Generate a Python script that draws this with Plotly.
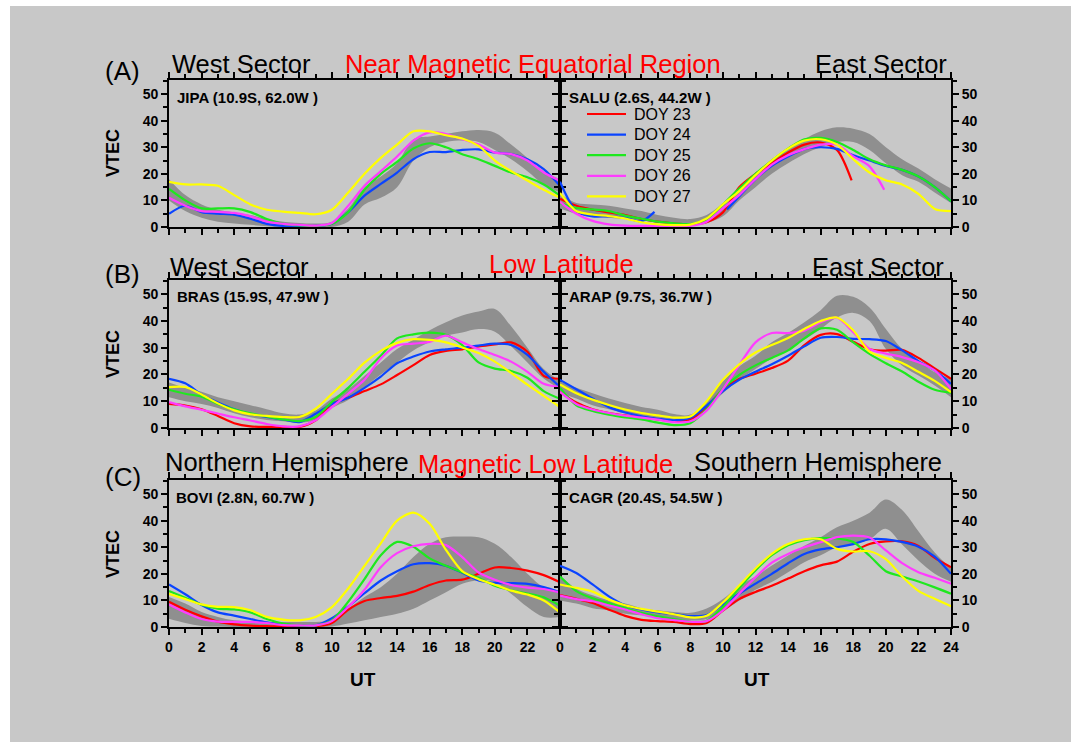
import plotly.graph_objects as go

W, H = 1071, 742
UT = list(range(25))

# ---------------- (A) JIPA ----------------
jipa_band_lo = [10, 6, 3.5, 2, 1.3, 0.8, 0.3, 0, 0, 0, 0, 2, 8.5, 11, 15, 25, 30, 32, 32.5, 32, 29, 25.5, 21, 16, 13]
jipa_band_hi = [18, 12, 8.5, 6.5, 5.5, 4.5, 3, 2, 1.5, 1.3, 2, 7, 15, 19, 24, 33, 34, 35, 36, 36.5, 35.5, 31, 26, 21, 18]
jipa_doy24 = [5, 8, 5.6, 5, 4.6, 3.1, 1.2, 0.4, 0.4, 0.4, 1.2, 5.6, 11.8, 16.2, 20.5, 25.5, 28.2, 28.2, 29, 29.2, 28, 27.4, 25.5, 21.8, 15.5]
jipa_doy25 = [14.3, 10, 7, 7, 7, 5.6, 3, 1.2, 0.6, 0.4, 1.2, 5.6, 14, 20, 24.5, 29.5, 31.5, 30, 27.4, 25.5, 23, 20.5, 18.7, 16, 11.8]
jipa_doy26 = [11, 8, 6, 5.7, 5.3, 4, 2, 1.2, 0.8, 0.5, 1.5, 8, 15.5, 21, 26.5, 32.5, 35.6, 35, 33, 31, 28, 27.4, 25, 20.5, 17.4]
jipa_doy27 = [17, 16, 16, 15.5, 12, 8.5, 6.5, 5.8, 5.3, 4.8, 6.5, 13, 20, 26, 31, 36, 36, 34.5, 33.3, 30.5, 25, 21, 17.5, 14, 11]

# ---------------- (A) SALU ----------------
salu_band_lo = [7, 5, 4, 3.5, 3, 2.5, 1.5, 1, 1, 1.5, 4, 10, 15, 20, 24, 27.5, 30, 32, 32, 29, 24, 19.5, 17, 13, 9]
salu_band_hi = [12.5, 9, 8.5, 8, 7, 6, 4.5, 3.5, 3, 4.5, 9, 15, 20, 25, 29, 33, 36, 37.5, 37, 35, 30, 25.5, 22, 18, 14.5]
salu_doy23_ut = [0, 1, 2, 3, 4, 5, 6, 7, 8, 9, 10, 11, 12, 13, 14, 15, 16, 17, 17.9]
salu_doy23 = [10.6, 8, 6.5, 5.5, 4.5, 3, 2, 1.3, 1, 1.8, 5.5, 15, 20, 24, 28, 31, 31.8, 29, 17.5]
salu_doy24_ut = [0, 1, 2, 3, 4, 5, 5.8, None, 10.25, 11, 12, 13, 14, 15, 16, 17, 18, 19, 20, 21, 22, 23, 24]
salu_doy24 = [17, 6, 4, 4, 3.5, 2.2, 5.7, None, 6.6, 11.5, 18, 23, 26.5, 29.3, 30, 29.4, 27, 25, 23, 21.5, 19, 15, 9.7]
salu_doy25 = [9, 7.2, 6.6, 6, 4.3, 3.1, 2, 1.4, 1.1, 3, 8.5, 14.5, 20, 25, 29.5, 33, 33.5, 32, 29, 25.5, 23.2, 21.5, 19, 15, 9.7]
salu_doy26_ut = list(range(20)) + [19.9]
salu_doy26 = [9.5, 5, 2.3, 1, 0.5, 0.4, 0.4, 0.4, 0.4, 2, 7, 12, 18, 23.5, 27, 29.3, 31, 31, 26.6, 22.8, 14]
salu_doy27 = [12.8, 6, 4.7, 4.1, 3.2, 1.8, 1, 0.7, 0.9, 3.2, 8.5, 13.5, 19.5, 25, 29.5, 32.5, 33, 31, 25.5, 20.5, 17.6, 16, 12.5, 6.8, 6]

# ---------------- (B) BRAS ----------------
bras_band_lo = [11.5, 10, 9, 7.5, 5.5, 4, 3, 2.5, 2, 3, 7.5, 10.5, 15.3, 20, 24.5, 29, 32, 34.5, 35.7, 37, 36, 30.5, 24.5, 18.5, 14.6]
bras_band_hi = [17, 15, 13.5, 11.5, 10, 8.5, 7, 5.5, 5, 6.5, 11, 14.5, 19.5, 24.5, 29.5, 33, 36.5, 39.5, 42, 43.5, 44.5, 38, 30, 22, 17.7]
bras_doy23 = [9, 8.4, 7, 4.5, 1.8, 0.6, 0.4, 0.4, 0.4, 2.9, 9, 11.3, 13.8, 16.3, 19.8, 23.5, 27.3, 28.8, 29.4, 30.5, 31.2, 32, 28.5, 19.5, 18.4]
bras_doy24 = [18.4, 16.7, 12.5, 9.5, 7, 5.2, 4.1, 3.2, 2.2, 5.3, 9, 11.3, 15, 19.2, 24.2, 26.7, 28.6, 29.4, 30, 30.8, 31.5, 31, 27.3, 21, 15.3]
bras_doy25 = [14.3, 12.8, 11.7, 9, 7, 5.5, 4.3, 3.2, 2.6, 4.1, 9.7, 15, 21, 27, 33.5, 35, 35.6, 34.8, 31, 24.5, 22.2, 21.3, 18.8, 13.8, 10.9]
bras_doy26 = [9.7, 8.1, 6.8, 5.4, 4, 2.8, 1.5, 0.6, 0.6, 2.9, 7.8, 12.8, 18, 26, 30.8, 31.5, 32.2, 34.5, 32, 29.5, 27.3, 24.8, 21, 16.5, 15.3]
bras_doy27 = [15.3, 15.3, 12.5, 9.2, 6.6, 5.1, 4.5, 4.1, 4.1, 7.2, 12.8, 18.4, 24.4, 28.8, 31.8, 33.2, 32.9, 32, 30.1, 28, 24.8, 20.6, 16.2, 12, 7.8]

# ---------------- (B) ARAP ----------------
arap_band_lo = [13, 11, 8.5, 7, 5.5, 4.2, 3.4, 2.4, 2.5, 7.5, 13, 18, 22, 26, 29, 33, 37, 41.3, 43, 40, 29.5, 23.3, 19.6, 15.9, 11.5]
arap_band_hi = [17.5, 15, 13, 11, 9.3, 7.8, 6.8, 5.2, 5, 10, 17.5, 23, 27, 32, 35.5, 39.5, 44, 49.4, 49, 45, 37, 29.5, 25.2, 20.8, 18.4]
arap_doy23 = [13.5, 9.5, 7, 5.6, 4.7, 4, 3.2, 2.5, 3.2, 8, 14.3, 18.3, 20.3, 22.4, 25.2, 31, 34.8, 35.1, 32.2, 29.4, 28.9, 29.2, 26.2, 22.3, 18.4]
arap_doy24 = [18, 14.5, 11, 7.8, 5.8, 4.4, 3.4, 2.9, 3.8, 8.3, 13.8, 18, 21, 23.8, 27, 30.5, 33.7, 34, 33.3, 33.2, 32.5, 29, 25, 21.5, 16.5]
arap_doy25 = [15, 8.5, 6.4, 5, 4, 3.2, 2, 1.1, 1.8, 7, 14.7, 19.8, 23.4, 26.2, 29, 33.5, 37.2, 36.7, 32, 27.7, 24.2, 21.1, 17.3, 14.3, 13.2]
arap_doy26 = [13.5, 9, 6.9, 5.6, 4.6, 3.9, 3.1, 2.2, 2.5, 6.5, 14.5, 23.5, 32, 35.5, 35.5, 36.4, 39.5, 41.2, 35.8, 29.5, 27.8, 26.5, 24.6, 21.5, 14.6]
arap_doy27 = [16.3, 13, 10.6, 8.6, 6.9, 5.6, 4.7, 3.9, 4.3, 10, 18, 23.8, 28.2, 31, 33.6, 37, 40, 41.3, 36.5, 28.5, 26.2, 24.3, 21, 17.6, 13.4]

# ---------------- (C) BOVI ----------------
bovi_band_lo = [3.1, 1.5, 0.4, 0.2, 0, 0, 0, 0, 0, 0, 0.2, 1.3, 2.5, 3.8, 5, 6.9, 10, 13.1, 16.3, 17.5, 16.9, 12.5, 7.5, 3.8, 3.8]
bovi_band_hi = [11.3, 8.8, 5.6, 3.8, 2.5, 2, 1.9, 1.9, 1.9, 1.9, 2.5, 6.9, 11.3, 15, 20, 26.3, 31.3, 33.8, 34, 33.8, 31.3, 26.3, 20, 15, 13.8]
bovi_doy23 = [9.5, 6.5, 4, 2, 1, 0.5, 0.3, 0.3, 0.3, 0.3, 1.5, 6.5, 9.8, 10.9, 11.7, 13.3, 15.8, 17.5, 17.8, 20, 22.4, 22.2, 21.2, 19.5, 16.8]
bovi_doy24 = [16, 12.3, 8.3, 5.5, 4.3, 3, 1.8, 1, 0.6, 0.6, 3.3, 7.7, 12.7, 17.5, 21, 23.6, 24, 23, 20.4, 17.5, 16.6, 16.5, 16.2, 15, 13]
bovi_doy25 = [13.5, 11, 8.4, 6.9, 6.6, 5.5, 3, 1.3, 0.6, 0.6, 2.5, 9.5, 18, 27, 32, 30.2, 25.8, 23, 20.6, 18.5, 15.5, 13.8, 12.6, 11.2, 8]
bovi_doy26 = [8.5, 5.5, 3, 2, 1.9, 1.9, 1.5, 0.7, 0.6, 0.6, 2.2, 7.5, 14, 22.5, 27.8, 30.4, 31.3, 30.8, 26.3, 20.5, 17.8, 15.8, 14.8, 14.3, 13]
bovi_doy27 = [12.5, 10.5, 8.5, 7.6, 7.5, 6.3, 3.8, 2.8, 2.5, 3.8, 7.5, 14.5, 23, 31.5, 40, 43, 38.8, 29, 21, 18, 15.9, 13.7, 12.2, 10, 5.5]

# ---------------- (C) CAGR ----------------
cagr_band_lo = [10, 8.8, 7.1, 6.3, 5, 4.4, 3.8, 3.1, 2.5, 3, 6, 10, 14, 16.9, 20.6, 24.4, 27, 30, 31, 33, 37, 31, 25, 20, 17]
cagr_band_hi = [19.4, 14.4, 11.9, 10, 8.8, 7.1, 6.3, 5.6, 5.4, 7, 10.5, 15.5, 19, 23.1, 26.9, 30.6, 33.8, 37.5, 40, 43, 48, 44, 36, 28, 22]
cagr_doy23 = [12, 10.6, 9, 6.5, 4.2, 2.7, 2.2, 1.9, 1.1, 1.5, 6.2, 10.5, 13.2, 15.5, 18.2, 21, 23.2, 24.6, 28.3, 31.2, 32.2, 32.2, 30.5, 26, 22.5]
cagr_doy24 = [23, 20.3, 16, 11.5, 8.2, 6.6, 5.5, 4.9, 4.1, 4.5, 8.5, 12.5, 16.3, 20, 24, 27.5, 29.2, 30, 31.2, 33, 33, 32, 30.2, 26.5, 20]
cagr_doy25 = [19, 13.5, 10.8, 9, 7.2, 5.3, 4, 3, 2, 2.3, 7.5, 14.7, 21.3, 27, 30.8, 32.7, 33.4, 33.3, 32, 26.8, 21, 19, 17.1, 14.9, 12.5]
cagr_doy26 = [11.8, 10.5, 9.7, 8.1, 6.6, 4.8, 3.3, 2.6, 2, 2.2, 6.2, 12.5, 18.7, 24.2, 27.5, 30, 31.9, 33.8, 34.4, 33.7, 28.8, 24, 20.6, 18.5, 16.3]
cagr_doy27 = [16, 14.7, 13.3, 10.3, 8.2, 6.8, 5.8, 4.8, 3.6, 4.2, 9.2, 15.6, 22, 27.5, 31.2, 33, 33, 29.4, 28.4, 28.5, 25.5, 19, 13.6, 10.6, 7.8]

# ---------------- labels ----------------
doy_names = ["DOY 23", "DOY 24", "DOY 25", "DOY 26", "DOY 27"]
doy_colors = ["#ff0000", "#0a44ff", "#1ee81e", "#ff3cff", "#ffff00"]
station_labels = ["JIPA (10.9S, 62.0W )", "SALU (2.6S, 44.2W )", "BRAS (15.9S, 47.9W )",
                  "ARAP (9.7S, 36.7W )", "BOVI (2.8N, 60.7W )", "CAGR (20.4S, 54.5W )"]
left_ticks = list(range(0, 24, 2))
right_ticks = list(range(0, 25, 2))
y_ticks = [0, 10, 20, 30, 40, 50]

# per-panel series: (band_lo, band_hi, [(x, y) for each DOY])
panels = [
    (jipa_band_lo, jipa_band_hi, [(None, None), (UT, jipa_doy24), (UT, jipa_doy25), (UT, jipa_doy26), (UT, jipa_doy27)]),
    (salu_band_lo, salu_band_hi, [(salu_doy23_ut, salu_doy23), (salu_doy24_ut, salu_doy24), (UT, salu_doy25),
                                  (salu_doy26_ut, salu_doy26), (UT, salu_doy27)]),
    (bras_band_lo, bras_band_hi, [(UT, bras_doy23), (UT, bras_doy24), (UT, bras_doy25), (UT, bras_doy26), (UT, bras_doy27)]),
    (arap_band_lo, arap_band_hi, [(UT, arap_doy23), (UT, arap_doy24), (UT, arap_doy25), (UT, arap_doy26), (UT, arap_doy27)]),
    (bovi_band_lo, bovi_band_hi, [(UT, bovi_doy23), (UT, bovi_doy24), (UT, bovi_doy25), (UT, bovi_doy26), (UT, bovi_doy27)]),
    (cagr_band_lo, cagr_band_hi, [(UT, cagr_doy23), (UT, cagr_doy24), (UT, cagr_doy25), (UT, cagr_doy26), (UT, cagr_doy27)]),
]


def px(x):
    return x / W


def py(y):
    return 1 - y / H


BG = "#c8c8c8"
BAND = "#8f8f8f"
FONT = "Liberation Sans, Arial, sans-serif"

col_px = [(169, 560), (560, 951)]
row_px = [(80, 227), (280, 428), (480, 627)]

fig = go.Figure()
layout = {}
for i, (blo, bhi, series) in enumerate(panels):
    r, c = divmod(i, 2)
    xa = f"x{i + 1}" if i else "x"
    ya = f"y{i + 1}" if i else "y"
    fig.add_trace(go.Scatter(x=UT, y=blo, mode="lines", line=dict(width=0, shape="spline", color=BAND),
                             showlegend=False, hoverinfo="skip", xaxis=xa, yaxis=ya))
    fig.add_trace(go.Scatter(x=UT, y=bhi, mode="lines", line=dict(width=0, shape="spline", color=BAND),
                             fill="tonexty", fillcolor=BAND, showlegend=False, hoverinfo="skip",
                             xaxis=xa, yaxis=ya))
    for k, (sx, sy) in enumerate(series):
        if sx is None:
            continue
        fig.add_trace(go.Scatter(x=sx, y=sy, mode="lines", name=doy_names[k],
                                 line=dict(color=doy_colors[k], width=2.2, shape="spline", smoothing=0.8),
                                 showlegend=False, connectgaps=False,
                                 xaxis=xa, yaxis=ya))
    x0, x1 = col_px[c]
    ytop, ybot = row_px[r]
    common = dict(showline=True, linecolor="black", linewidth=1.8, mirror="ticks", ticks="outside",
                  tickwidth=1.8, tickcolor="black", showgrid=False, zeroline=False, automargin=False,
                  tickfont=dict(family=FONT, size=14, color="black", weight="bold"))
    layout["xaxis" + (str(i + 1) if i else "")] = dict(
        common, domain=[px(x0), px(x1)], range=[0, 24], anchor=ya,
        tickmode="array", tickvals=left_ticks if c == 0 else right_ticks,
        ticklen=6, minor=dict(dtick=1, tick0=0, ticks="outside", ticklen=4, tickwidth=1.5, tickcolor="black"),
        showticklabels=(r == 2))
    layout["yaxis" + (str(i + 1) if i else "")] = dict(
        common, domain=[py(ybot), py(ytop)], range=[0, 55.3], anchor=xa,
        side="left" if c == 0 else "right", tickmode="array", tickvals=y_ticks, ticklen=6,
        minor=dict(dtick=5, tick0=0, ticks="outside", ticklen=4, tickwidth=1.5, tickcolor="black"))

fig.update_layout(**layout)

ann = []
shapes = [dict(type="rect", xref="paper", yref="paper", x0=px(10), x1=1, y0=0, y1=py(6),
               fillcolor=BG, line=dict(width=0), layer="below")]


def text(x, y, s, size, color="black", xanchor="left", bold=False, angle=0):
    ann.append(dict(x=px(x), y=py(y), xref="paper", yref="paper", text=s, showarrow=False,
                    xanchor=xanchor, yanchor="middle", textangle=angle,
                    font=dict(family=FONT, size=size, color=color, weight="bold" if bold else "normal")))


# row headers
TS = 25.5
text(103, 71, "(A)", 26)
text(103, 274, "(B)", 26)
text(103, 477, "(C)", 26)
text(170, 64, "West Sector", TS)
text(533, 64, "Near Magnetic Equatorial Region", TS, color="#ff0000", xanchor="center")
text(949, 64, "East Sector", TS, xanchor="right")
text(168, 267, "West Sector", TS)
text(561, 264, "Low Latitude", TS, color="#ff0000", xanchor="center")
text(946, 267, "East Sector", TS, xanchor="right")
text(163, 462, "Northern Hemisphere", TS)
text(545, 464, "Magnetic Low Latitude", TS, color="#ff0000", xanchor="center")
text(944, 462, "Southern Hemisphere", TS, xanchor="right")

# station labels
st_pos = [(175, 97), (567, 97), (175, 297), (567, 297), (174, 497), (567, 497)]
for (sx, sy), lab in zip(st_pos, station_labels):
    text(sx, sy, lab, 15, bold=True)

# legend key (panel SALU)
for k, (name, col) in enumerate(zip(doy_names, doy_colors)):
    yk = 114 + 20.6 * k
    shapes.append(dict(type="line", xref="paper", yref="paper", x0=px(587), x1=px(626), y0=py(yk), y1=py(yk),
                       line=dict(color=col, width=2.2)))
    text(632, yk, name, 16)

# axis titles
for yc in (153, 354, 554):
    text(113, yc, "VTEC", 18, bold=True, xanchor="center", angle=-90)
for xc in (363, 757):
    text(xc, 679, "UT", 19, bold=True, xanchor="center")

fig.update_layout(
    width=W, height=H, margin=dict(l=0, r=0, t=0, b=0, autoexpand=False),
    paper_bgcolor="white", plot_bgcolor=BG,
    annotations=ann, shapes=shapes, showlegend=False,
)

fig.write_html("out.html")
